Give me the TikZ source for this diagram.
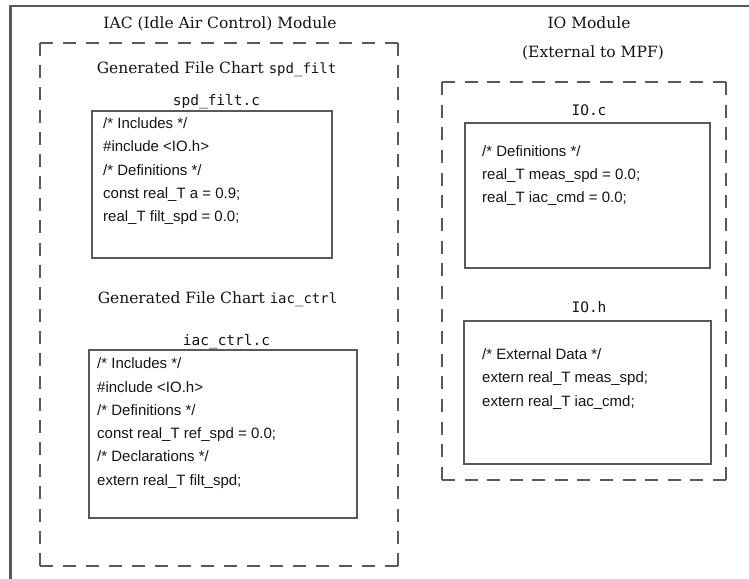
\documentclass[tikz,border=0pt]{standalone}
\usepackage{fontspec}
\setmainfont{DejaVu Serif}
\newfontfamily\codefont{Liberation Sans}
\newfontfamily\monofont{DejaVu Sans Mono}
\definecolor{linegray}{HTML}{595959}
\definecolor{txt}{HTML}{141414}
\begin{document}
\begin{tikzpicture}[x=1pt,y=-1pt,
  codebox/.style={draw=linegray, line width=1.8pt, anchor=north west, inner sep=0pt},
  codeline/.style={anchor=base west, inner sep=0pt, font=\codefont\fontsize{15}{17}\selectfont, text=txt},
  filelabel/.style={anchor=base, inner sep=0pt, font=\monofont\fontsize{14.5}{16}\selectfont, text=txt},
  titletext/.style={anchor=base, inner sep=0pt, font=\fontsize{15.5}{18}\selectfont, text=txt},
  dashbase/.style={draw=linegray, line width=1.8pt},
  dashAh/.style={dashbase, dash pattern=on 13pt off 10pt},
  dashAv/.style={dashbase, dash pattern=on 13pt off 9.17pt},
  dashBh/.style={dashbase, dash pattern=on 13pt off 9.58pt},
  dashBv/.style={dashbase, dash pattern=on 13pt off 9.65pt},
  frameline/.style={draw=linegray, line width=2.5pt}]
\useasboundingbox (0,0) rectangle (749,578);

% outer frame (only top and left visible)
\coordinate (fA) at (10.5,590);
\coordinate (fB) at (10.5,6);
\coordinate (fC) at (760,6);
\draw[frameline] (fA) -- (fB) -- (fC);

% dashed containers
\coordinate (a1) at (40,43);  \coordinate (a2) at (398,43);
\coordinate (a3) at (398,566); \coordinate (a4) at (40,566);
\coordinate (b1) at (442,82);  \coordinate (b2) at (726,82);
\coordinate (b3) at (726,480); \coordinate (b4) at (442,480);
\draw[dashAh] (a1) -- (a2);
\draw[dashAv] (a2) -- (a3);
\draw[dashAh] (a4) -- (a3);
\draw[dashAv] (a1) -- (a4);
\draw[dashBh] (b1) -- (b2);
\draw[dashBv] (b2) -- (b3);
\draw[dashBh] (b4) -- (b3);
\draw[dashBv] (b1) -- (b4);

% titles
\node[titletext] (t1) at (220,29) {IAC (Idle Air Control) Module};
\node[titletext] (t2) at (589,29) {IO Module};
\node[titletext] (t3) at (593,57) {(External to MPF)};
\node[titletext] (g1) at (216.5,74) {Generated File Chart {\monofont\fontsize{14}{16}\selectfont spd\_filt}};
\node[titletext] (g2) at (217.5,303) {Generated File Chart {\monofont\fontsize{14}{16}\selectfont iac\_ctrl}};

% file labels
\node[filelabel] (l1) at (216.5,105) {spd\_filt.c};
\node[filelabel] (l2) at (226.5,345) {iac\_ctrl.c};
\node[filelabel] (l3) at (589,115) {IO.c};
\node[filelabel] (l4) at (589,312) {IO.h};

% boxes
\node[codebox, minimum width=240pt, minimum height=147pt] (bx1) at (91,110) {};
\node[codebox, minimum width=268pt, minimum height=168pt] (bx2) at (88,349) {};
\node[codebox, minimum width=245pt, minimum height=145pt] (bx3) at (464,122) {};
\node[codebox, minimum width=247pt, minimum height=143pt] (bx4) at (463,320) {};

% spd_filt.c contents
\node[codeline] (c11) at (103,128)   {/* Includes */};
\node[codeline] (c12) at (103,151.5) {\#include <IO.h>};
\node[codeline] (c13) at (103,175)   {/* Definitions */};
\node[codeline] (c14) at (103,198)   {const real\_T a = 0.9;};
\node[codeline] (c15) at (103,221.5) {real\_T filt\_spd = 0.0;};

% iac_ctrl.c contents
\node[codeline] (c21) at (97,368.7) {/* Includes */};
\node[codeline] (c22) at (97,392)   {\#include <IO.h>};
\node[codeline] (c23) at (97,415.3) {/* Definitions */};
\node[codeline] (c24) at (97,438.6) {const real\_T ref\_spd = 0.0;};
\node[codeline] (c25) at (97,461.9) {/* Declarations */};
\node[codeline] (c26) at (97,485.2) {extern real\_T filt\_spd;};

% IO.c contents
\node[codeline] (c31) at (482,156.5) {/* Definitions */};
\node[codeline] (c32) at (482,179.5) {real\_T meas\_spd = 0.0;};
\node[codeline] (c33) at (482,202.5) {real\_T iac\_cmd = 0.0;};

% IO.h contents
\node[codeline] (c41) at (482,359.5) {/* External Data */};
\node[codeline] (c42) at (482,382.8) {extern real\_T meas\_spd;};
\node[codeline] (c43) at (482,406)   {extern real\_T iac\_cmd;};
\end{tikzpicture}
\end{document}
